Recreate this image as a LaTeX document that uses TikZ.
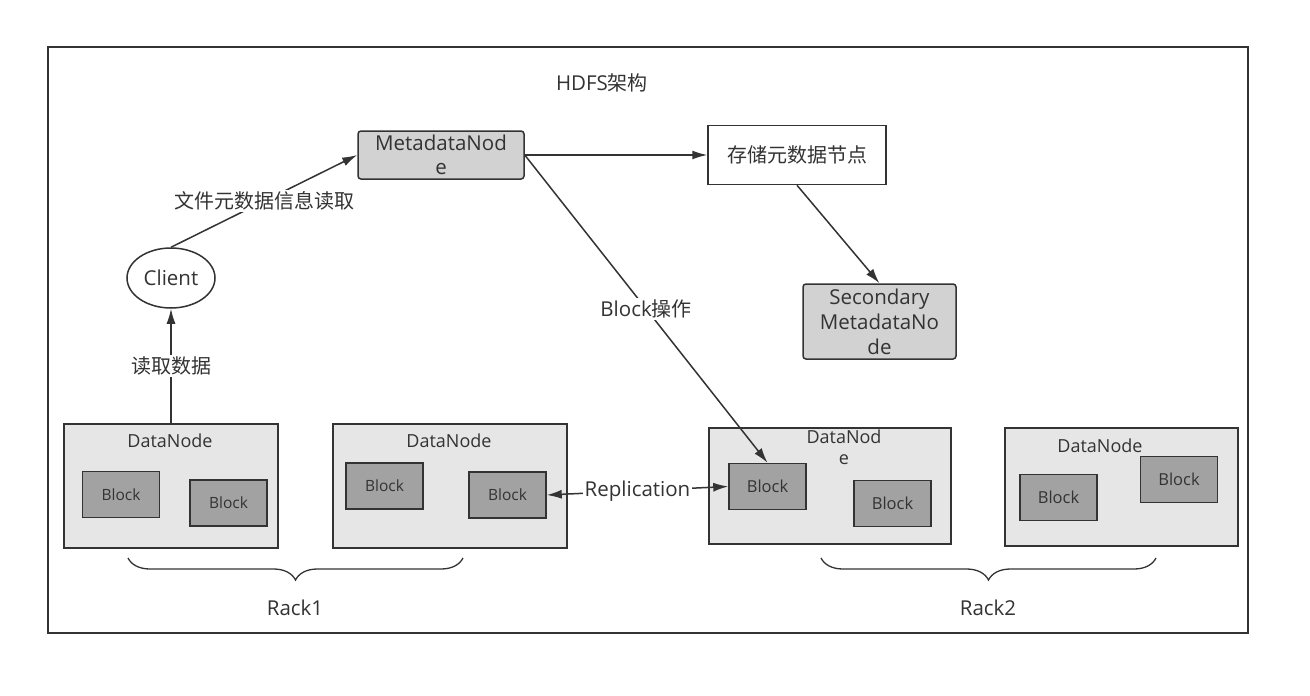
\documentclass[tikz,border=0pt]{standalone}
\usepackage{fontspec}
\setmainfont{Open Sans}
\newfontfamily\cjk{Noto Sans CJK SC}
\newcommand{\zh}[1]{{\cjk\fontsize{20}{24}\selectfont #1}}
\usepackage{xcolor}
\usetikzlibrary{positioning}
\usetikzlibrary{arrows.meta,shapes.geometric,decorations.pathreplacing}
\definecolor{ink}{HTML}{333333}
\definecolor{metagray}{HTML}{D2D2D2}
\definecolor{datagray}{HTML}{E6E6E6}
\definecolor{blockgray}{HTML}{A2A2A2}

\begin{document}
\begin{tikzpicture}[x=1pt, y=-1pt,
      every node/.style={text=ink, font=\fontsize{20.5}{24}\selectfont},
      type-meta/.style={rectangle, rounded corners=3pt, draw=ink, fill=metagray, line width=1.5pt, align=center, inner sep=0pt},
      type-store/.style={rectangle, draw=ink, fill=white, line width=1.5pt, minimum width=178pt, minimum height=59pt},
      type-client/.style={ellipse, draw=ink, fill=white, line width=1.5pt, minimum width=88pt, minimum height=60pt},
      type-data/.style={rectangle, draw=ink, fill=datagray, line width=1.5pt},
      type-data-label/.style={font=\fontsize{18}{21}\selectfont, align=center},
      type-block/.style={rectangle, draw=ink, fill=blockgray, line width=1.5pt, minimum width=77pt, minimum height=46pt, font=\fontsize{15.5}{18}\selectfont},
      type-block-big/.style={type-block, font=\fontsize{16.5}{20}\selectfont},
      type-edge/.style={draw=ink, line width=1.5pt, -{Latex[length=15pt,width=9pt]}},
      type-label/.style={fill=white, inner sep=2pt},
      type-rack/.style={draw=ink, line width=1.3pt, decorate, decoration={brace, amplitude=22pt}}
    ]
      \useasboundingbox (0,0) rectangle (1310,696);
      \draw[ink, line width=1.5pt] (48,47) rectangle (1248,633);
      \node (title) at (602,83) {HDFS\zh{架构}};

      \node[type-meta, minimum width=166pt, minimum height=48pt] (meta) at (441,155) {MetadataNod\\e};
      \node[type-store] (store) at (797,155) {\zh{存储元数据节点}};
      \node[type-meta, minimum width=153pt, minimum height=75pt, font=\fontsize{20.5}{25}\selectfont] (second) at (879.5,321.5) {Secondary\\MetadataNo\\de};
      \node[type-client] (client) at (171,278) {Client};

      % rack 1
      \node[type-data, minimum width=214pt, minimum height=124pt] (dn1) at (171,486) {};
      \node[type-data-label] (dn1-label) at (170,441) {DataNode};
      \node[type-block] (dn1-b1) at (121,494.5) {Block};
      \node[type-block] (dn1-b2) at (228.5,503) {Block};
      \node[type-data, minimum width=234pt, minimum height=124pt] (dn2) at (450,486) {};
      \node[type-data-label] (dn2-label) at (449,441) {DataNode};
      \node[type-block] (dn2-b1) at (384.5,486) {Block};
      \node[type-block] (dn2-b2) at (507.5,495) {Block};

      % rack 2
      \node[type-data, minimum width=242pt, minimum height=116pt] (dn3) at (830,486) {};
      \node[type-data-label] (dn3-label) at (844,447) {DataNod\\e};
      \node[type-block-big] (dn3-b1) at (767.5,486.5) {Block};
      \node[type-block-big] (dn3-b2) at (892.5,503.5) {Block};
      \node[type-data, minimum width=233pt, minimum height=118pt] (dn4) at (1121.5,487) {};
      \node[type-data-label] (dn4-label) at (1100,446) {DataNode};
      \node[type-block-big] (dn4-b1) at (1058.5,497.5) {Block};
      \node[type-block-big] (dn4-b2) at (1179,479.5) {Block};

      \draw[type-edge] (client.north) -- node[type-label] {\zh{文件元数据信息读取}} (meta.west);
      \draw[type-edge] (dn1.north) -- node[type-label] {\zh{读取数据}} (client.south);
      \draw[type-edge] (meta.east) -- (store.west);
      \draw[type-edge] (store.south) -- (second.north);
      \draw[type-edge] (meta.east) -- node[type-label] {Block\zh{操作}} (dn3-b1.north);
      \draw[type-edge, {Latex[length=15pt,width=9pt]}-{Latex[length=15pt,width=9pt]}] (dn2-b2.east) -- node[type-label] {Replication} (dn3-b1.west);

      \coordinate (rack1-r) at (463,558);
      \coordinate (rack1-l) at (128,558);
      \coordinate (rack2-r) at (1156,558);
      \coordinate (rack2-l) at (821,558);
      \draw[type-rack] (rack1-r) -- (rack1-l);
      \draw[type-rack] (rack2-r) -- (rack2-l);
      \node (rack1) at (295,608) {Rack1};
      \node (rack2) at (988,608) {Rack2};
    \end{tikzpicture}
\end{document}
